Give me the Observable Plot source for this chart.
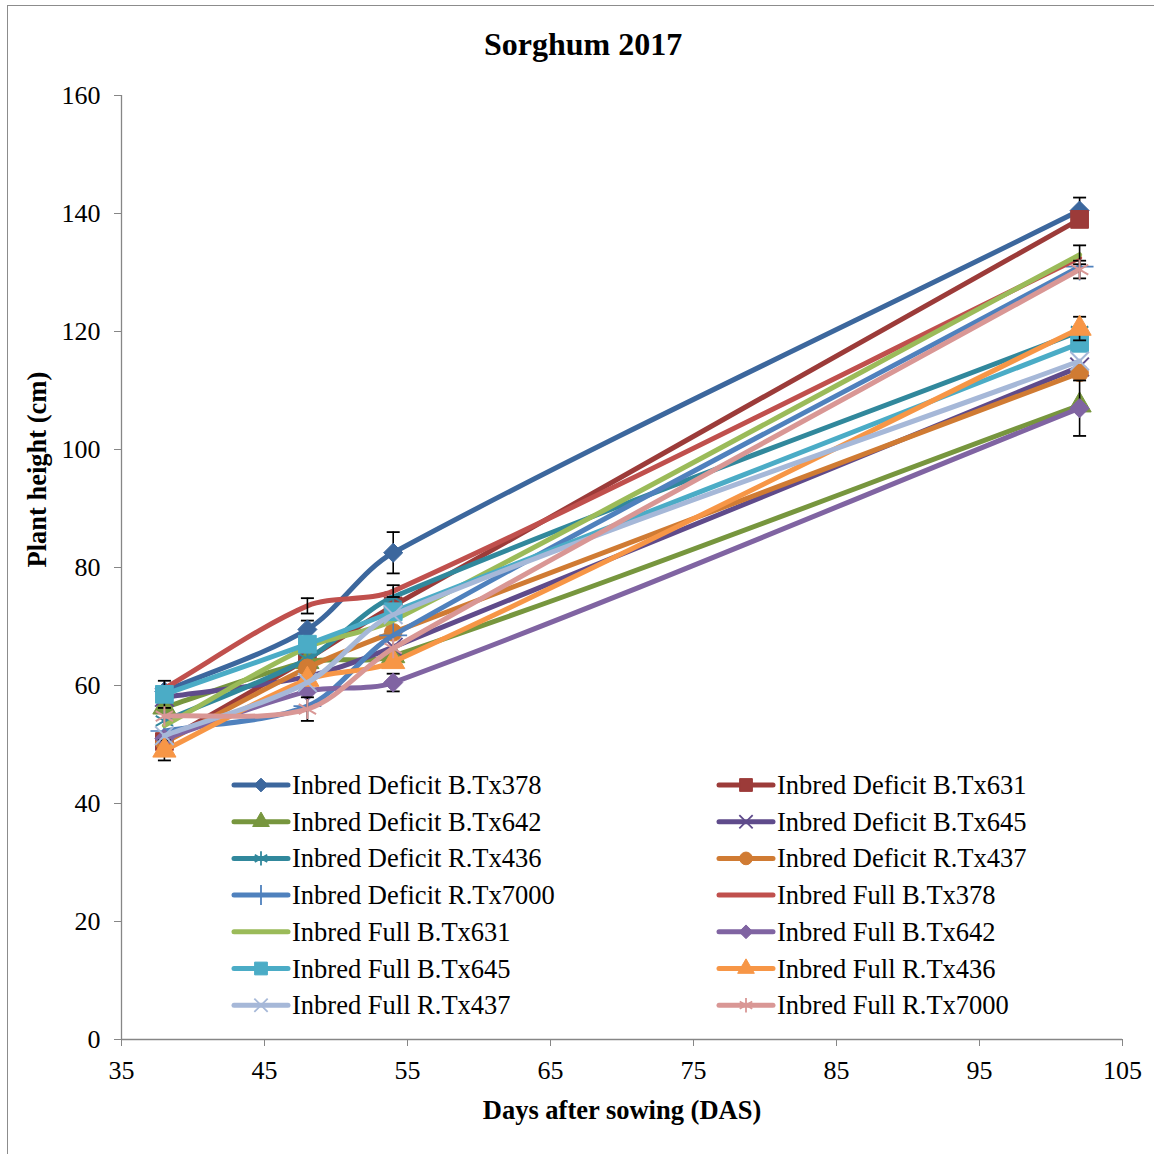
<!DOCTYPE html>
<html><head><meta charset="utf-8">
<script src="https://cdn.jsdelivr.net/npm/d3@7"></script>
<script src="https://cdn.jsdelivr.net/npm/@observablehq/plot@0.6"></script>
<style>
body{margin:0;background:#fff;}
#wrap{position:relative;width:1154px;height:1154px;overflow:hidden;font-family:"Liberation Serif","Times New Roman",serif;}
#frame{position:absolute;left:7px;top:5px;width:1160px;height:1160px;border-left:1px solid #8c8c8c;border-top:1px solid #8c8c8c;pointer-events:none;}
#wrap svg{position:absolute;left:0;top:0;}
</style></head><body>
<div id="wrap"><div id="frame"></div></div>
<script>
// ---- data ----
const days = [38, 48, 54, 102];
const xTicks = [35, 45, 55, 65, 75, 85, 95, 105];
const yTicks = [0, 20, 40, 60, 80, 100, 120, 140, 160];

const seriesNames = [
  "Inbred Deficit B.Tx378", "Inbred Deficit B.Tx631",
  "Inbred Deficit B.Tx642", "Inbred Deficit B.Tx645",
  "Inbred Deficit R.Tx436", "Inbred Deficit R.Tx437",
  "Inbred Deficit R.Tx7000", "Inbred Full B.Tx378",
  "Inbred Full B.Tx631", "Inbred Full B.Tx642",
  "Inbred Full B.Tx645", "Inbred Full R.Tx436",
  "Inbred Full R.Tx437", "Inbred Full R.Tx7000"
];
const seriesColors = [
  "#3c679d", "#9c3b39", "#77963e", "#5f4b8b", "#31889c", "#d07b33", "#4f81bd",
  "#c0504d", "#9bbb59", "#8064a2", "#4bacc6", "#f79646", "#a6b8d8", "#d99795"
];
const seriesSymbols = [
  "diamond2", "square", "triangle", "times", "asterisk", "circle", "plus",
  null, null, "diamond2", "square", "triangle", "times", "asterisk"
];

const hDefBTx378  = [59.0, 69.5, 82.5, 140.5];
const hDefBTx631  = [50.5, 64.5, 73.5, 139.0];
const hDefBTx642  = [56.3, 64.0, 65.0, 107.5];
const hDefBTx645  = [58.0, 61.5, 66.5, 114.0];
const hDefRTx436  = [54.0, 64.5, 75.0, 120.0];
const hDefRTx437  = [50.3, 63.0, 69.0, 113.0];
const hDefRTx7000 = [52.3, 56.5, 68.5, 131.0];
const hFullBTx378 = [59.5, 73.5, 76.0, 132.5];
const hFullBTx631 = [53.2, 66.5, 71.0, 133.0];
const hFullBTx642 = [51.0, 59.0, 60.5, 107.0];
const hFullBTx645 = [58.5, 67.0, 72.5, 118.0];
const hFullRTx436 = [49.0, 61.0, 64.0, 120.5];
const hFullRTx437 = [51.5, 60.5, 72.0, 115.0];
const hFullRTx7000= [54.8, 56.0, 66.3, 130.5];

// standard errors (0 = no bar shown)
const eDefBTx378  = [0, 1.5, 3.5, 2.2];
const eFullBTx378 = [0, 1.3, 1.0, 0];
const eFullBTx631 = [0, 0, 0, 1.6];
const eFullBTx642 = [0, 0, 1.5, 4.7];
const eFullBTx645 = [2.3, 0, 0, 0];
const eFullRTx436 = [1.7, 0, 0, 2.0];
const eFullRTx7000= [0, 2.0, 0, 1.5];
const eNone = [0, 0, 0, 0];

const heights = [hDefBTx378, hDefBTx631, hDefBTx642, hDefBTx645, hDefRTx436, hDefRTx437, hDefRTx7000,
  hFullBTx378, hFullBTx631, hFullBTx642, hFullBTx645, hFullRTx436, hFullRTx437, hFullRTx7000];
const errors = [eDefBTx378, eNone, eNone, eNone, eNone, eNone, eNone,
  eFullBTx378, eFullBTx631, eFullBTx642, eFullBTx645, eFullRTx436, eNone, eFullRTx7000];

// ---- build table ----
const rows = seriesNames.flatMap((name, i) => days.map((d, j) => ({
  series: name, idx: i, day: d, h: heights[i][j], e: errors[i][j]
})));

const FONT = '"Liberation Serif","Times New Roman",serif';
const capSymbol = {draw(ctx) { ctx.moveTo(-6.5, 0); ctx.lineTo(6.5, 0); }};

// Spreadsheet-style smoothing: tangent direction from neighbours, handle length
// proportional to each segment's own length (avoids loops on uneven spacing).
function smoothCurve(context) {
  let pts = [];
  const K = 0.3;
  return {
    areaStart() {}, areaEnd() {},
    lineStart() { pts = []; },
    point(x, y) { pts.push([+x, +y]); },
    lineEnd() {
      const n = pts.length;
      if (!n) return;
      context.moveTo(pts[0][0], pts[0][1]);
      if (n === 1) return;
      const dir = pts.map((p, i) => {
        const a = pts[Math.max(0, i - 1)], b = pts[Math.min(n - 1, i + 1)];
        const dx = b[0] - a[0], dy = b[1] - a[1], l = Math.hypot(dx, dy) || 1;
        return [dx / l, dy / l];
      });
      for (let i = 0; i < n - 1; i++) {
        const p = pts[i], q = pts[i + 1];
        const L = Math.hypot(q[0] - p[0], q[1] - p[1]) * K;
        context.bezierCurveTo(p[0] + dir[i][0] * L, p[1] + dir[i][1] * L,
          q[0] - dir[i + 1][0] * L, q[1] - dir[i + 1][1] * L, q[0], q[1]);
      }
    }
  };
}

const symbolSize = {diamond2: 8.6, square: 10, triangle: 8.6, times: 8.5, asterisk: 9.5, circle: 8.8, plus: 9};
const strokeSymbols = new Set(["times", "asterisk", "plus"]);

const seriesMarks = seriesNames.flatMap((name, i) => {
  const data = rows.filter(r => r.idx === i);
  const err = data.filter(r => r.e > 0);
  const col = seriesColors[i];
  const sym = seriesSymbols[i];
  const marks = [
    Plot.line(data, {x: "day", y: "h", stroke: col, strokeWidth: 5, curve: smoothCurve,
      strokeLinecap: "round", strokeLinejoin: "round"}),
    Plot.ruleX(err, {x: "day", y1: r => r.h - r.e, y2: r => r.h + r.e, stroke: "black", strokeWidth: 1.6}),
    Plot.dot(err, {x: "day", y: r => r.h + r.e, symbol: capSymbol, r: 5, stroke: "black", fill: "none", strokeWidth: 1.8}),
    Plot.dot(err, {x: "day", y: r => r.h - r.e, symbol: capSymbol, r: 5, stroke: "black", fill: "none", strokeWidth: 1.8})
  ];
  if (sym) {
    if (strokeSymbols.has(sym)) {
      marks.push(Plot.dot(data, {x: "day", y: "h", symbol: sym, r: symbolSize[sym], stroke: col, fill: "none", strokeWidth: sym === "plus" ? 1.6 : 2}));
    } else {
      marks.push(Plot.dot(data, {x: "day", y: "h", symbol: sym, r: symbolSize[sym], fill: col, stroke: col, strokeWidth: 1}));
    }
  }
  return marks;
});

const chart = Plot.plot({
  width: 1154,
  height: 1154,
  marginLeft: 121,
  marginRight: 32,
  marginTop: 95,
  marginBottom: 115,
  style: {fontFamily: FONT, fontSize: "26px", background: "transparent", color: "black"},
  x: {domain: [35, 105], label: null},
  y: {domain: [0, 160], label: null},
  marks: [
    Plot.axisX({ticks: xTicks, tickSize: 7, tickPadding: 14, stroke: "#868686", fill: "black", fontSize: 26, label: null, tickFormat: d => d}),
    Plot.axisY({ticks: yTicks, tickSize: 7, tickPadding: 14, stroke: "#868686", fill: "black", fontSize: 26, label: null, tickFormat: d => d}),
    Plot.ruleY([0], {stroke: "#868686", strokeWidth: 1.3}),
    Plot.ruleX([35], {stroke: "#868686", strokeWidth: 1.3}),
    ...seriesMarks,
    Plot.text(["Sorghum 2017"], {frameAnchor: "top", lineAnchor: "middle", dx: -39, dy: -51, fontSize: 32, fontWeight: "bold", fill: "black"}),
    Plot.text(["Days after sowing (DAS)"], {frameAnchor: "bottom", lineAnchor: "middle", dy: 71, fontSize: 26.5, fontWeight: "bold", fill: "black"}),
    Plot.text(["Plant height (cm)"], {frameAnchor: "left", lineAnchor: "middle", dx: -84, rotate: -90, fontSize: 26.5, fontWeight: "bold", fill: "black"})
  ]
});
document.getElementById("wrap").appendChild(chart);

// ---- legend (overlay inside plot area) ----
const symType = {diamond2: d3.symbolDiamond2, square: d3.symbolSquare, triangle: d3.symbolTriangle,
  times: d3.symbolTimes, asterisk: d3.symbolAsterisk, circle: d3.symbolCircle, plus: d3.symbolPlus};
const leg = d3.create("svg").attr("width", 1154).attr("height", 1154)
  .style("font-family", FONT).style("pointer-events", "none");
const colX = [234, 719], rowY0 = 785, rowStep = 36.7, lineLen = 54;
seriesNames.forEach((name, i) => {
  const cx = colX[i % 2], cy = rowY0 + Math.floor(i / 2) * rowStep;
  const g = leg.append("g").attr("transform", `translate(${cx},${cy})`);
  const col = seriesColors[i];
  g.append("line").attr("x1", 0).attr("x2", lineLen).attr("stroke", col)
    .attr("stroke-width", 5).attr("stroke-linecap", "round");
  const sym = seriesSymbols[i];
  if (sym) {
    const rr = symbolSize[sym] * 0.72;
    const p = g.append("path").attr("transform", `translate(${lineLen / 2},0)`)
      .attr("d", d3.symbol(symType[sym], Math.PI * rr * rr)());
    if (strokeSymbols.has(sym)) p.attr("fill", "none").attr("stroke", col).attr("stroke-width", 1.8);
    else p.attr("fill", col).attr("stroke", col);
  }
  g.append("text").attr("x", lineLen + 4).attr("y", 9).attr("font-size", 26.5).attr("fill", "black").text(name);
});
document.getElementById("wrap").appendChild(leg.node());
</script>
</body></html>
